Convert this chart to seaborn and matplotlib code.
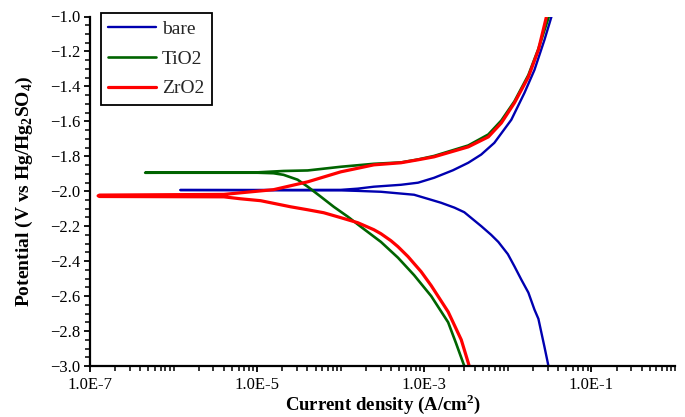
import matplotlib
matplotlib.use("Agg")
import matplotlib.pyplot as plt
import matplotlib.ticker as mticker
import seaborn as sns
import pandas as pd

# ---- data ----
series_names = ["bare", "TiO2", "ZrO2"]

bare_current = [0.0306, 0.0274, 0.0232, 0.0208, 0.0176, 0.0145, 0.0120, 0.0100, 7.69e-3, 6.3e-3,
                4.81e-3, 3.01e-3, 2.3e-3, 1.59e-3, 1.21e-3,
                7.55e-4, 3.03e-4, 1.6e-4, 1.0e-4, 1.2e-6, 1.0e-4, 1.6e-4,
                2.49e-4, 5.26e-4, 8.43e-4, 1.31e-3, 2.2e-3, 3.36e-3, 4.8e-3, 6.89e-3, 0.0110,
                0.0158, 0.0208, 0.0274, 0.0333]
bare_potential = [-3.00, -2.89, -2.73, -2.677, -2.58, -2.506, -2.43, -2.36, -2.29, -2.249,
                  -2.20, -2.12, -2.094, -2.066, -2.049,
                  -2.02, -2.003, -1.998, -1.995, -1.993, -1.992, -1.985,
                  -1.974, -1.963, -1.951, -1.923, -1.88, -1.837, -1.79, -1.723, -1.591,
                  -1.437, -1.306, -1.134, -1.0]

tio2_current = [3.01e-3, 2.4e-3, 1.93e-3, 1.21e-3, 7.55e-4, 4.84e-4, 3.03e-4, 1.74e-4, 1.22e-4,
                8.26e-5, 5.77e-5, 4.03e-5, 3.05e-5, 2.07e-5, 1.57e-5, 1.01e-5, 4.57e-7,
                1.0e-5, 2.07e-5, 4.03e-5, 1.0e-4, 2.49e-4, 5.26e-4, 8.43e-4, 1.31e-3,
                3.36e-3, 5.84e-3, 8.36e-3, 0.0120, 0.0176, 0.0232, 0.0310]
tio2_potential = [-3.00, -2.87, -2.75, -2.60, -2.48, -2.38, -2.29, -2.203, -2.146,
                  -2.089, -2.031, -1.974, -1.934, -1.906, -1.897, -1.894, -1.894,
                  -1.892, -1.884, -1.881, -1.860, -1.843, -1.835, -1.818, -1.798,
                  -1.738, -1.675, -1.595, -1.485, -1.335, -1.185, -1.0]

zro2_current = [3.45e-3, 2.77e-3, 1.93e-3, 1.21e-3, 9.16e-4, 7.55e-4, 6.39e-4, 4.84e-4, 3.99e-4,
                3.03e-4, 2.49e-4, 1.60e-4, 1.00e-4, 6.27e-5, 4.03e-5, 2.52e-5, 1.10e-5,
                6.3e-6, 4.0e-6, 1.3e-7, 1.25e-7, 1.3e-7, 4.0e-6, 6.3e-6, 1.57e-5, 4.03e-5,
                1.00e-4, 2.49e-4, 5.26e-4, 8.43e-4, 1.31e-3, 3.36e-3, 5.84e-3, 8.36e-3,
                0.0120, 0.0176, 0.0232, 0.0290]
zro2_potential = [-3.00, -2.85, -2.69, -2.54, -2.46, -2.414, -2.374, -2.317, -2.283,
                  -2.243, -2.22, -2.18, -2.151, -2.123, -2.106, -2.089, -2.054,
                  -2.043, -2.032, -2.030, -2.026, -2.022, -2.018, -2.009, -1.991, -1.946,
                  -1.889, -1.849, -1.837, -1.820, -1.803, -1.746, -1.689, -1.609,
                  -1.494, -1.346, -1.191, -1.0]

x_tick_values = [1e-7, 1e-5, 1e-3, 1e-1]
x_tick_labels = ["1.0E-7", "1.0E-5", "1.0E-3", "1.0E-1"]
y_tick_values = [-3.0, -2.8, -2.6, -2.4, -2.2, -2.0, -1.8, -1.6, -1.4, -1.2, -1.0]
y_tick_labels = ["\u22123.0", "\u22122.8", "\u22122.6", "\u22122.4", "\u22122.2", "\u22122.0",
                 "\u22121.8", "\u22121.6", "\u22121.4", "\u22121.2", "\u22121.0"]

# ---- build table ----
frames = []
for name, cur, pot in [("bare", bare_current, bare_potential),
                       ("TiO2", tio2_current, tio2_potential),
                       ("ZrO2", zro2_current, zro2_potential)]:
    frames.append(pd.DataFrame({"current": cur, "potential": pot, "sample": name}))
df = pd.concat(frames, ignore_index=True)

sns.set_theme(style="white")
plt.rcParams["font.family"] = ["Liberation Serif", "DejaVu Serif"]
plt.rcParams["mathtext.fontset"] = "custom"
plt.rcParams["mathtext.rm"] = "Liberation Serif"
plt.rcParams["mathtext.bf"] = "Liberation Serif:bold"

fig = plt.figure(figsize=(6.85, 4.17), dpi=100)
ax = fig.add_axes([90 / 685, 1 - 366 / 417, 585 / 685, 349.5 / 417])

colors = {"bare": "#0000B0", "TiO2": "#006400", "ZrO2": "#FF0000"}
widths = {"bare": 1.7, "TiO2": 1.9, "ZrO2": 2.3}
for name in series_names:
    sub = df[df["sample"] == name]
    sns.lineplot(data=sub, x="current", y="potential", sort=False, estimator=None,
                 color=colors[name], linewidth=widths[name], label=name, ax=ax)

ax.set_xscale("log")
ax.set_xlim(1e-7, 1.0)
ax.set_ylim(-3.0, -1.0)

ax.xaxis.set_major_locator(mticker.FixedLocator(x_tick_values))
ax.xaxis.set_major_formatter(mticker.FixedFormatter(x_tick_labels))
ax.xaxis.set_minor_locator(mticker.LogLocator(base=10, subs=[1, 2, 3, 4, 5, 6, 7, 8, 9], numticks=30))
ax.xaxis.set_minor_formatter(mticker.NullFormatter())
ax.yaxis.set_major_locator(mticker.FixedLocator(y_tick_values))
ax.yaxis.set_major_formatter(mticker.FixedFormatter(y_tick_labels))
ax.yaxis.set_minor_locator(mticker.MultipleLocator(0.05))

ax.tick_params(axis="both", which="major", direction="out", length=4, width=1.3,
               labelsize=12, color="black", labelcolor="black", pad=3)
ax.tick_params(axis="x", which="major", pad=4)
ax.tick_params(axis="both", which="minor", direction="out", length=3.5, width=1.1, color="black")
ax.tick_params(axis="y", which="both", left=True)
ax.tick_params(axis="x", which="both", bottom=True)

for s in ["top", "right"]:
    ax.spines[s].set_visible(False)
for s in ["left", "bottom"]:
    ax.spines[s].set_color("black")
    ax.spines[s].set_linewidth(1.6)

ax.set_xlabel("Current density (A/cm$^\\mathbf{2}$)", fontsize=13.5, fontweight="bold", color="black")
ax.set_ylabel("Potential (V vs Hg/Hg$_\\mathbf{2}$SO$_\\mathbf{4}$)", fontsize=14, fontweight="bold", color="black")
ax.xaxis.set_label_coords(0.5, (366 - 392) / 349.5)
ax.yaxis.set_label_coords((35 - 90) / 585, 0.5)

leg = ax.legend(loc="upper left", bbox_to_anchor=(101 / 685, 1 - 13 / 417),
                bbox_transform=fig.transFigure, borderaxespad=0, frameon=True,
                fancybox=False, framealpha=1, edgecolor="black", fontsize=14,
                handlelength=2.45, handletextpad=0.3, borderpad=0.38, labelspacing=0.62)
leg.get_frame().set_linewidth(1.3)

fig.savefig("out.png", dpi=100)
